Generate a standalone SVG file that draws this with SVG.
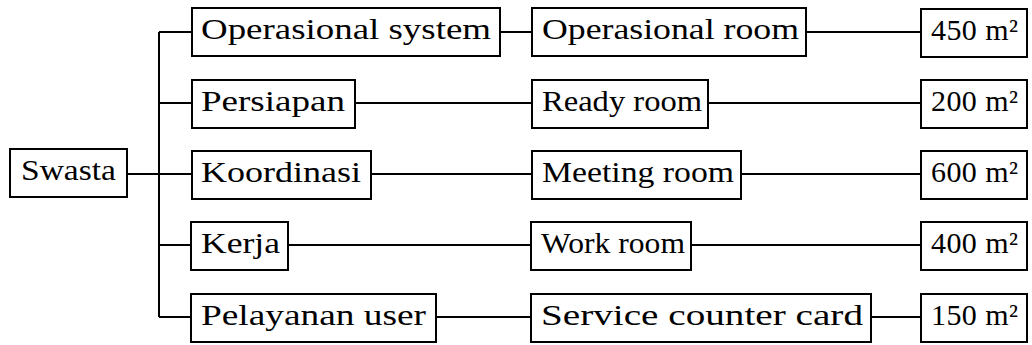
<svg xmlns="http://www.w3.org/2000/svg" width="1032" height="345" viewBox="0 0 1032 345">
<style>
.b{fill:#fff;stroke:#000;stroke-width:2}
.t{font-family:"Liberation Serif","DejaVu Serif",serif;font-size:30px;fill:#000}
.c{fill:none;stroke:#000;stroke-width:2}
</style>
<rect width="1032" height="345" fill="#fff"/>
<g id="connectors">
<path class="c" d="M127 174H192M159 32V317M159 32H192M159 103H192M159 245H192M159 317H192"/>
<path class="c" d="M500 32H532M806 32H921"/>
<path class="c" d="M355 103H532M708 103H921"/>
<path class="c" d="M371 174H532M741 174H921"/>
<path class="c" d="M288 245H531M691 245H921"/>
<path class="c" d="M436 317H531M871 317H921"/>
</g>
<g id="swasta"><rect class="b" x="10" y="149" width="117" height="48"/><text class="t" x="21" y="180" textLength="95" lengthAdjust="spacingAndGlyphs">Swasta</text></g>
<g id="op-system"><rect class="b" x="192" y="8" width="308" height="48"/><text class="t" x="201" y="39" textLength="290" lengthAdjust="spacingAndGlyphs">Operasional system</text></g>
<g id="persiapan"><rect class="b" x="192" y="80" width="163" height="48"/><text class="t" x="201" y="111" textLength="144" lengthAdjust="spacingAndGlyphs">Persiapan</text></g>
<g id="koordinasi"><rect class="b" x="192" y="151" width="179" height="48"/><text class="t" x="201" y="182" textLength="160" lengthAdjust="spacingAndGlyphs">Koordinasi</text></g>
<g id="kerja"><rect class="b" x="191" y="222" width="97" height="48"/><text class="t" x="201" y="253" textLength="79" lengthAdjust="spacingAndGlyphs">Kerja</text></g>
<g id="pelayanan"><rect class="b" x="191" y="294" width="245" height="48"/><text class="t" x="201" y="325" textLength="225" lengthAdjust="spacingAndGlyphs">Pelayanan user</text></g>
<g id="op-room"><rect class="b" x="532" y="8" width="274" height="48"/><text class="t" x="542" y="39" textLength="257" lengthAdjust="spacingAndGlyphs">Operasional room</text></g>
<g id="ready-room"><rect class="b" x="532" y="80" width="176" height="48"/><text class="t" x="542" y="111" textLength="160" lengthAdjust="spacingAndGlyphs">Ready room</text></g>
<g id="meeting-room"><rect class="b" x="532" y="151" width="209" height="48"/><text class="t" x="542" y="182" textLength="192" lengthAdjust="spacingAndGlyphs">Meeting room</text></g>
<g id="work-room"><rect class="b" x="531" y="222" width="160" height="48"/><text class="t" x="541" y="253" textLength="144" lengthAdjust="spacingAndGlyphs">Work room</text></g>
<g id="service-counter"><rect class="b" x="531" y="294" width="340" height="48"/><text class="t" x="541" y="325" textLength="322" lengthAdjust="spacingAndGlyphs">Service counter card</text></g>
<g id="a450"><rect class="b" x="921" y="9" width="106" height="48"/><text class="t" x="931" y="40" textLength="87" lengthAdjust="spacing">450 m²</text></g>
<g id="a200"><rect class="b" x="921" y="80" width="106" height="48"/><text class="t" x="931" y="111" textLength="87" lengthAdjust="spacing">200 m²</text></g>
<g id="a600"><rect class="b" x="921" y="151" width="106" height="48"/><text class="t" x="931" y="182" textLength="87" lengthAdjust="spacing">600 m²</text></g>
<g id="a400"><rect class="b" x="921" y="222" width="106" height="48"/><text class="t" x="931" y="253" textLength="87" lengthAdjust="spacing">400 m²</text></g>
<g id="a150"><rect class="b" x="921" y="294" width="106" height="48"/><text class="t" x="931" y="325" textLength="87" lengthAdjust="spacing">150 m²</text></g>
</svg>
